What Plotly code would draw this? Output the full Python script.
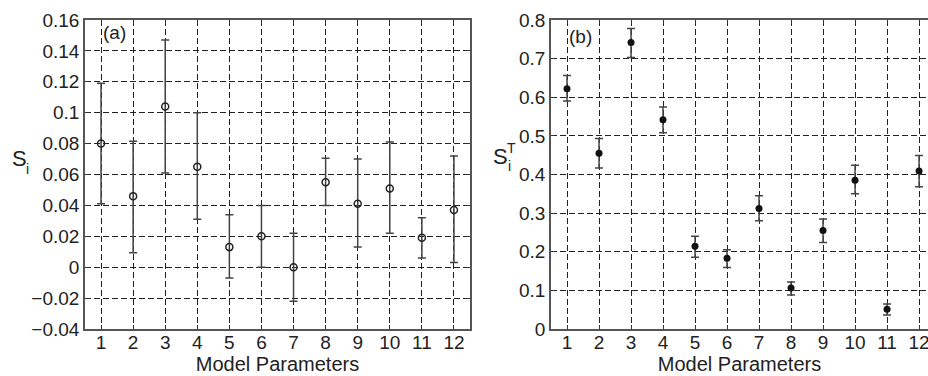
import plotly.graph_objects as go

params = list(range(1, 13))
tick_labels = [str(p) for p in params]

# Panel (a): first-order indices S_i with bounds
si_mean = [0.080, 0.046, 0.104, 0.065, 0.013, 0.020, 0.000, 0.055, 0.041, 0.051, 0.019, 0.037]
si_low = [0.041, 0.0094, 0.061, 0.031, -0.007, 0.000, -0.022, 0.040, 0.013, 0.022, 0.006, 0.003]
si_high = [0.119, 0.0815, 0.147, 0.100, 0.034, 0.040, 0.022, 0.0705, 0.070, 0.081, 0.032, 0.072]

# Panel (b): total indices S_i^T with bounds
st_mean = [0.622, 0.455, 0.742, 0.542, 0.214, 0.183, 0.312, 0.106, 0.255, 0.385, 0.051, 0.409]
st_low = [0.590, 0.417, 0.703, 0.508, 0.186, 0.159, 0.280, 0.088, 0.224, 0.350, 0.036, 0.368]
st_high = [0.656, 0.493, 0.778, 0.575, 0.240, 0.205, 0.345, 0.122, 0.285, 0.424, 0.065, 0.449]

FONT = "Liberation Sans, Arial, sans-serif"
TXT = "#222222"
AX = "#555555"
W, H = 928, 376

fig = go.Figure()

fig.add_trace(go.Scatter(
    x=params, y=si_mean, mode="markers", xaxis="x", yaxis="y",
    marker=dict(symbol="circle-open", size=7, color="#222222", line=dict(width=1.5)),
    error_y=dict(type="data", symmetric=False,
                 array=[h - m for h, m in zip(si_high, si_mean)],
                 arrayminus=[m - l for m, l in zip(si_mean, si_low)],
                 color="#444444", thickness=1.5, width=4),
    showlegend=False,
))
fig.add_trace(go.Scatter(
    x=params, y=st_mean, mode="markers", xaxis="x2", yaxis="y2",
    marker=dict(symbol="circle", size=7, color="#111111"),
    error_y=dict(type="data", symmetric=False,
                 array=[h - m for h, m in zip(st_high, st_mean)],
                 arrayminus=[m - l for m, l in zip(st_mean, st_low)],
                 color="#444444", thickness=1.5, width=4),
    showlegend=False,
))

grid = dict(showgrid=True, gridcolor="#222222", gridwidth=1, griddash="6px,3px",
            zeroline=False, showline=True, linecolor=AX, linewidth=1.5,
            ticks="inside", ticklen=4, tickcolor="#333333", tickwidth=1,
            automargin=False, ticklabeloverflow="allow",
            tickfont=dict(family=FONT, size=19, color=TXT))

xtitle = dict(text="Model Parameters", font=dict(family=FONT, size=20, color=TXT), standoff=0)

fig.update_layout(
    width=W, height=H,
    margin=dict(l=0, r=0, t=20, b=47),
    paper_bgcolor="white", plot_bgcolor="white",
    font=dict(family=FONT, color=TXT),
    xaxis=dict(domain=[85 / W, 470 / W], range=[0.5, 12.5], tickvals=params, ticktext=tick_labels,
               mirror="ticks", anchor="y", title=xtitle, ticklabelstandoff=-5, **grid),
    yaxis=dict(domain=[0, 1], range=[-0.04, 0.16], dtick=0.02, tickformat="~g", mirror="ticks",
               anchor="x", **grid),
    xaxis2=dict(domain=[551 / W, 1.0], range=[0.5, 12.28], tickvals=params, ticktext=tick_labels,
                mirror="ticks", anchor="y2", title=xtitle, ticklabelstandoff=-5, **grid),
    yaxis2=dict(domain=[0, 1], range=[0, 0.8], dtick=0.1, tickformat="~g", mirror=False,
                anchor="x2", **grid),
)

ann = []
ann.append(dict(text="(a)", x=1, y=0.152, xref="x", yref="y", xanchor="left", yanchor="middle",
                showarrow=False, font=dict(family=FONT, size=19, color=TXT)))
ann.append(dict(text="(b)", x=1, y=0.758, xref="x2", yref="y2", xanchor="left", yanchor="middle",
                showarrow=False, font=dict(family=FONT, size=19, color=TXT)))
# y titles
ann.append(dict(text="S", x=10 / W, y=1 - 169 / H, xref="paper", yref="paper", xanchor="left",
                yanchor="middle", showarrow=False, font=dict(family=FONT, size=22, color=TXT)))
ann.append(dict(text="i", x=24 / W, y=1 - 181 / H, xref="paper", yref="paper", xanchor="left",
                yanchor="middle", showarrow=False, font=dict(family=FONT, size=14, color=TXT)))
ann.append(dict(text="S", x=491 / W, y=1 - 166 / H, xref="paper", yref="paper", xanchor="left",
                yanchor="middle", showarrow=False, font=dict(family=FONT, size=22, color=TXT)))
ann.append(dict(text="T", x=505 / W, y=1 - 156 / H, xref="paper", yref="paper", xanchor="left",
                yanchor="middle", showarrow=False, font=dict(family=FONT, size=14, color=TXT)))
ann.append(dict(text="i", x=506 / W, y=1 - 178 / H, xref="paper", yref="paper", xanchor="left",
                yanchor="middle", showarrow=False, font=dict(family=FONT, size=14, color=TXT)))
fig.update_layout(annotations=ann)

fig.write_html("out.html", config={"displayModeBar": False},
               post_script="document.body.style.margin='0';document.body.style.overflow='hidden';")
